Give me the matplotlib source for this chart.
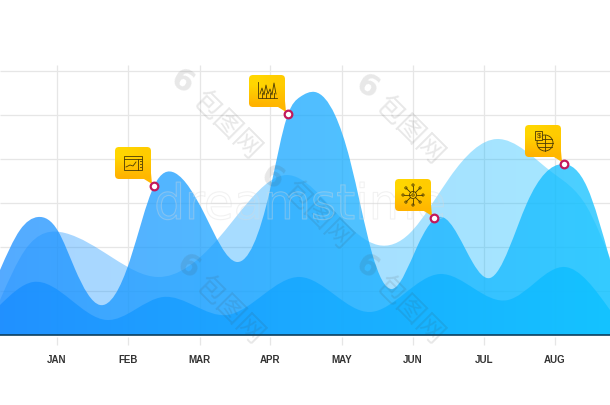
"""
plot.py

Layered wave area chart with yellow callouts, months along the bottom.
Positions are along the month axis, heights are above the baseline.
"""

import numpy as np
import matplotlib
matplotlib.use("Agg")
import matplotlib.pyplot as plt
import matplotlib.patheffects as pe
from matplotlib.path import Path
from matplotlib.patches import PathPatch, Circle, Rectangle

# month axis
months = ["JAN", "FEB", "MAR", "APR", "MAY", "JUN", "JUL", "AUG"]
month_pos = [57, 128, 199.5, 270, 342, 413, 484, 555]
grid_levels = [44, 88, 132, 176, 220, 264]

# light back wave
back_x = [0, 25, 65, 113, 158, 217, 250, 287, 340, 378, 410, 450, 497, 553, 587, 610]
back_y = [35, 85, 102, 77, 58, 95, 135, 160, 118, 90, 102, 158, 196, 162, 128, 77]

# big middle wave
mid_x = [0, 20, 38, 58, 75, 100, 130, 154, 175, 205, 237, 270, 288, 300, 315, 335, 350, 372, 392, 417, 442, 473, 490, 527, 563, 587, 610]
mid_y = [65, 105, 118, 104, 66, 30, 75, 149, 162, 120, 73, 145, 221, 238, 243, 220, 175, 82, 46, 88, 118, 72, 57, 132, 171, 148, 75]

# front low wave
front_x = [0, 33, 107, 163, 227, 300, 370, 440, 508, 565, 610]
front_y = [30, 53, 15, 38, 20, 58, 23, 61, 35, 68, 25]

# callouts sit on the middle wave
callout_x = [154, 288, 434, 564]
callout_y = [149, 221, 117, 171]
callout_icons = ["browser", "bars", "network", "globe"]

# watermark spots
mark_x = [227, 410, 318, 230, 410]
mark_y = [210, 205, 120, 25, 25]
logo_x = [182, 367, 272, 188, 367]
logo_y = [253, 248, 157, 68, 68]


def spline_slopes(x, y):
    # slopes of a natural cubic spline, so the curve has no visible kinks
    n = len(x)
    h = np.diff(x)
    d = np.diff(y) / h
    A = np.zeros((n, n))
    b = np.zeros(n)
    A[0, 0], A[0, 1], b[0] = 2, 1, 3 * d[0]
    A[-1, -2], A[-1, -1], b[-1] = 1, 2, 3 * d[-1]
    for i in range(1, n - 1):
        A[i, i - 1] = h[i]
        A[i, i] = 2 * (h[i - 1] + h[i])
        A[i, i + 1] = h[i - 1]
        b[i] = 3 * (h[i] * d[i - 1] + h[i - 1] * d[i])
    return np.linalg.solve(A, b)


def smooth_path(x, y, base=0):
    x = np.asarray(x, dtype=float)
    y = np.asarray(y, dtype=float)
    m = spline_slopes(x, y)
    verts = [(x[0], base), (x[0], y[0])]
    codes = [Path.MOVETO, Path.LINETO]
    for i in range(len(x) - 1):
        h = (x[i + 1] - x[i]) / 3
        verts += [(x[i] + h, y[i] + h * m[i]), (x[i + 1] - h, y[i + 1] - h * m[i + 1]), (x[i + 1], y[i + 1])]
        codes += [Path.CURVE4] * 3
    verts += [(x[-1], base), (x[0], base)]
    codes += [Path.LINETO, Path.CLOSEPOLY]
    return Path(verts, codes)


def gradient_fill(ax, path, left, right, alpha, zorder, extent):
    rgba = np.ones((2, 256, 4))
    for c in range(3):
        rgba[:, :, c] = np.linspace(left[c], right[c], 256)
    rgba[:, :, 3] = alpha
    im = ax.imshow(rgba, extent=extent, aspect="auto", origin="lower", zorder=zorder, interpolation="bilinear")
    im.set_clip_path(PathPatch(path, transform=ax.transData))


def draw_icon(ax, kind, cx, cy, z):
    ink = "#4a3a05"
    lw = 0.6
    if kind == "browser":
        ax.add_patch(Rectangle((cx - 9, cy - 7), 18, 14, fill=False, ec=ink, lw=lw, zorder=z))
        ax.plot([cx - 9, cx + 9], [cy + 4, cy + 4], color=ink, lw=lw, zorder=z)
        ax.plot([cx + 5, cx + 5], [cy - 7, cy + 4], color=ink, lw=lw, zorder=z)
        ax.plot([cx - 7, cx - 3, cx, cx + 3], [cy - 4, cy - 2, cy - 3, cy + 1], color=ink, lw=lw, zorder=z)
        for dy in (-4, -1, 2):
            ax.plot([cx + 6.5, cx + 8], [cy + dy, cy + dy], color=ink, lw=lw, zorder=z)
    elif kind == "bars":
        ax.plot([cx - 9, cx - 9, cx + 10], [cy + 9, cy - 7, cy - 7], color=ink, lw=lw, zorder=z)
        ax.plot(cx + np.arange(-7, 10, 2), cy + np.array([-3, 3, -4, 6, -3, 2, -4, 8, -3]),
                color=ink, lw=lw, zorder=z)
        for dx in (-5, -1, 3, 7):
            ax.plot([cx + dx, cx + dx], [cy - 7, cy - 2], color=ink, lw=lw, zorder=z)
    elif kind == "network":
        ax.add_patch(Circle((cx, cy), 3.5, fill=False, ec=ink, lw=lw, zorder=z))
        ax.add_patch(Circle((cx, cy), 1.2, fill=False, ec=ink, lw=lw, zorder=z))
        for a in np.arange(0, 360, 45):
            ca, sa = np.cos(np.radians(a)), np.sin(np.radians(a))
            ax.plot([cx + 3.5 * ca, cx + 9 * ca], [cy + 3.5 * sa, cy + 9 * sa], color=ink, lw=lw, zorder=z)
            ax.add_patch(Circle((cx + 10 * ca, cy + 10 * sa), 1.1, fill=False, ec=ink, lw=lw, zorder=z))
    else:
        ax.add_patch(Circle((cx + 2, cy - 2), 8, fill=False, ec=ink, lw=lw, zorder=z))
        ax.plot([cx - 6, cx + 10], [cy - 2, cy - 2], color=ink, lw=lw, zorder=z)
        ax.plot([cx - 5, cx + 9], [cy + 2, cy + 2], color=ink, lw=lw, zorder=z)
        ax.plot([cx - 5, cx + 9], [cy - 6, cy - 6], color=ink, lw=lw, zorder=z)
        ax.plot([cx + 2, cx + 2], [cy - 10, cy + 6], color=ink, lw=lw, zorder=z)
        ax.add_patch(Rectangle((cx - 8, cy + 1), 7, 9, fc="#ffc800", ec=ink, lw=lw, zorder=z))
        ax.text(cx - 4.5, cy + 5.5, "$", color=ink, fontsize=5.5, ha="center", va="center", zorder=z)


def callout_path(px, py):
    # rounded box up and to the left of the point, tail runs down to it
    l, r = px - 39, px - 3
    b, t = py + 7, py + 39
    k = 4
    verts = [(l + k, b), (r - 7, b), (r + 1, py + 2), (r, b + 6), (r, t - k), (r, t), (r - k, t), (l + k, t),
             (l, t), (l, t - k), (l, b + k), (l, b), (l + k, b), (l + k, b)]
    codes = [Path.MOVETO, Path.LINETO, Path.LINETO, Path.LINETO, Path.LINETO, Path.CURVE3, Path.CURVE3, Path.LINETO,
             Path.CURVE3, Path.CURVE3, Path.LINETO, Path.CURVE3, Path.CURVE3, Path.CLOSEPOLY]
    return Path(verts, codes), (l, r, b, t)


plt.rcParams["font.family"] = ["Liberation Sans Narrow", "Liberation Sans", "DejaVu Sans"]

fig = plt.figure(figsize=(6.1, 4.05), dpi=100)
ax = fig.add_axes([0, 0, 1, 1])
ax.set_axis_off()

# grid
ax.hlines(grid_levels, 0, 610, color="#e6e6e6", lw=0.9, zorder=1)
ax.vlines(month_pos, 0, 270, color="#e6e6e6", lw=0.9, zorder=1)
ax.vlines(month_pos, -10, -2, color="#e6e6e6", lw=0.9, zorder=1)

# waves, left to right gradient
wave_extent = [0, 610, 0, 335]
blue_left = (0.11, 0.56, 1.0)
blue_right = (0.06, 0.76, 1.0)
gradient_fill(ax, smooth_path(back_x, back_y), blue_left, blue_right, 0.38, 2, wave_extent)
gradient_fill(ax, smooth_path(mid_x, mid_y), blue_left, blue_right, 0.75, 3, wave_extent)
gradient_fill(ax, smooth_path(front_x, front_y), blue_left, blue_right, 0.85, 4, wave_extent)

# baseline
ax.hlines(0, 0, 610, color="#0d3f5e", lw=1.2, zorder=5)

# month labels
for pos, name in zip(month_pos, months):
    ax.text(pos, -25, name, ha="center", va="center", fontsize=7, color="#333333", fontweight="bold")

# watermarks
for x, y in zip(mark_x, mark_y):
    ax.text(x, y, "包图网", rotation=-45, ha="center", va="center", fontsize=20,
            family=["Noto Sans CJK SC", "DejaVu Sans"], color=(0.25, 0.25, 0.25, 0.12), zorder=6)
for x, y in zip(logo_x, logo_y):
    ax.text(x, y, "6", rotation=-30, ha="center", va="center", fontsize=22, fontweight="bold",
            family=["DejaVu Sans"], color=(0.25, 0.25, 0.25, 0.12), zorder=6)
ax.text(300, 130, "dreamstime", ha="center", va="center", fontsize=35, family=["DejaVu Sans"],
        color=(1, 1, 1, 0.03), zorder=6,
        path_effects=[pe.withStroke(linewidth=0.8, foreground=(0.85, 0.85, 0.85, 0.35))])

# callouts
for px, py, kind in zip(callout_x, callout_y, callout_icons):
    path, (l, r, b, t) = callout_path(px, py)
    rgba = np.ones((2, 2, 4))
    rgba[:, :, 0] = 1.0
    rgba[:, :, 1] = [[0.70, 0.72], [0.84, 0.80]]
    rgba[:, :, 2] = 0.0
    im = ax.imshow(rgba, extent=[l, r + 2, py, t], aspect="auto", origin="lower", zorder=7, interpolation="bilinear")
    im.set_clip_path(PathPatch(path, transform=ax.transData))
    draw_icon(ax, kind, (l + r) / 2, (b + t) / 2, 8)
    ax.plot(px, py, "o", ms=5.5, mfc="white", mec="#c2185b", mew=1.6, zorder=9)

ax.set_xlim(0, 610)
ax.set_ylim(-70, 335)
fig.savefig("out.png", dpi=100)
plt.close()
